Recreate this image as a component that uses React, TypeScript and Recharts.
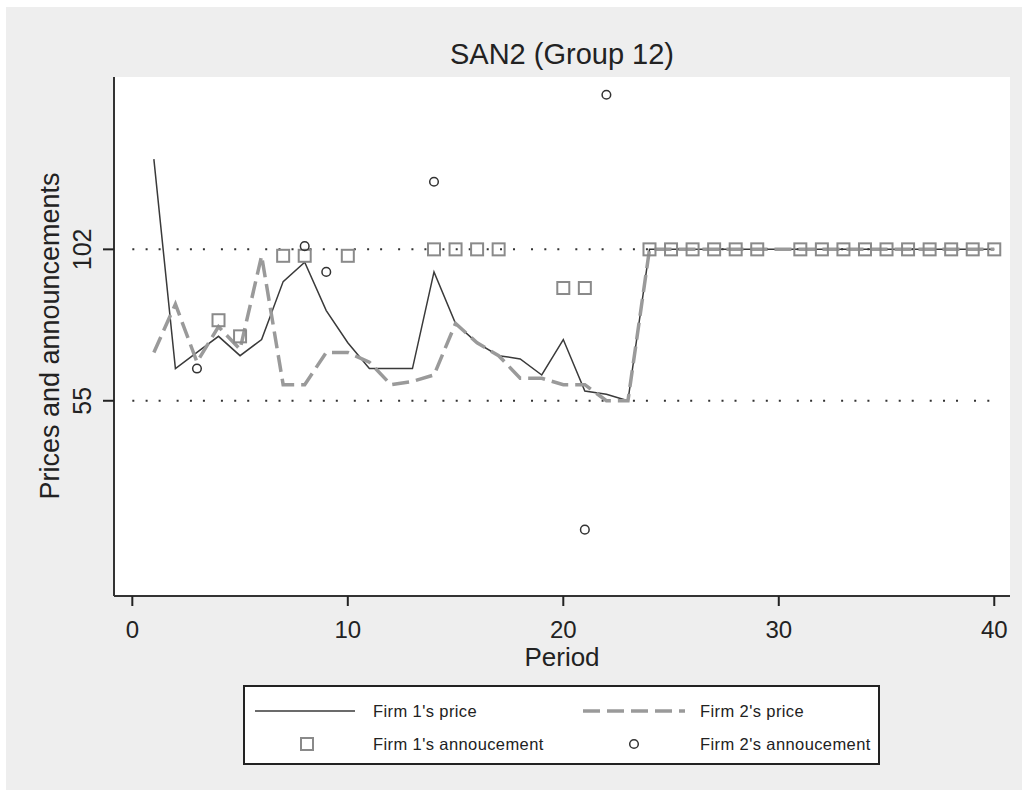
import React from 'react';
import {
  ComposedChart,
  Line,
  Scatter,
  XAxis,
  YAxis,
  ReferenceLine,
} from 'recharts';

// periods 1..40
const periods: number[] = Array.from({ length: 40 }, (_, i) => i + 1);

const firm1Price: number[] = [
  130, 65, 70, 75, 69, 74, 92, 98, 83, 73,
  65, 65, 65, 95, 79, 73, 69, 68, 63, 74,
  58, 57, 55, 102, 102, 102, 102, 102, 102, 102,
  102, 102, 102, 102, 102, 102, 102, 102, 102, 102,
];

const firm2Price: number[] = [
  70, 85, 67, 78, 71, 100, 60, 60, 70, 70,
  67, 60, 61, 63, 79, 73, 69, 62, 62, 60,
  60, 55, 55, 102, 102, 102, 102, 102, 102, 102,
  102, 102, 102, 102, 102, 102, 102, 102, 102, 102,
];

const firm1AnnPeriods: number[] = [4, 5, 7, 8, 10, 14, 15, 16, 17, 20, 21, 24, 25, 26, 27, 28, 29, 31, 32, 33, 34, 35, 36, 37, 38, 39, 40];
const firm1AnnValues: number[] = [80, 75, 100, 100, 100, 102, 102, 102, 102, 90, 90, 102, 102, 102, 102, 102, 102, 102, 102, 102, 102, 102, 102, 102, 102, 102, 102];

const firm2AnnPeriods: number[] = [3, 8, 9, 14, 21, 22];
const firm2AnnValues: number[] = [65, 103, 95, 123, 15, 150];

const xTicks = [0, 10, 20, 30, 40];
const yTicks = [55, 102];

const FONT = '"Liberation Sans", Arial, sans-serif';
const INK = '#222';

const priceData = periods.map((p, i) => ({ period: p, f1: firm1Price[i], f2: firm2Price[i] }));
const f1Ann = firm1AnnPeriods.map((p, i) => ({ period: p, v: firm1AnnValues[i] }));
const f2Ann = firm2AnnPeriods.map((p, i) => ({ period: p, v: firm2AnnValues[i] }));

const SquareShape = (props: any) => {
  const { cx, cy } = props;
  if (cx == null || cy == null) return null;
  return <rect x={cx - 6} y={cy - 6} width={12} height={12} fill="none" stroke="#8a8a8a" strokeWidth={2} />;
};

const CircleShape = (props: any) => {
  const { cx, cy } = props;
  if (cx == null || cy == null) return null;
  return <circle cx={cx} cy={cy} r={4.3} fill="none" stroke="#333" strokeWidth={1.5} />;
};

const YTick = (props: any) => {
  const { y, payload } = props;
  return (
    <text
      x={91}
      y={y}
      transform={`rotate(-90, 91, ${y})`}
      textAnchor="middle"
      fontSize={25}
      fontFamily={FONT}
      fill={INK}
    >
      {payload.value}
    </text>
  );
};

const dots = '2 11.3 2 11 2 16';

export default function App() {
  return (
    <div style={{ position: 'absolute', left: 0, top: 0, width: 1028, height: 794, background: '#fff', fontFamily: FONT }}>
      <div style={{ position: 'absolute', left: 6, top: 7, width: 1016, height: 783, background: '#eeeeee' }} />
      {/* plot region */}
      <div style={{ position: 'absolute', left: 114, top: 77, width: 896, height: 519, background: '#fff' }} />

      <div style={{ position: 'absolute', left: 0, top: 0 }}>
        <ComposedChart
          width={1028}
          height={794}
          data={priceData}
          margin={{ top: 77, right: 18, bottom: 138, left: 34 }}
        >
          <XAxis
            dataKey="period"
            type="number"
            domain={[-0.85, 40.73]}
            ticks={xTicks}
            allowDataOverflow
            height={60}
            tickSize={10}
            tickMargin={15}
            axisLine={{ stroke: '#333', strokeWidth: 2 }}
            tickLine={{ stroke: '#222', strokeWidth: 2 }}
            tick={{ fontSize: 24, fill: INK, fontFamily: FONT }}
          />
          <YAxis
            type="number"
            domain={[-5.6, 155.5]}
            ticks={yTicks}
            allowDataOverflow
            width={80}
            tickSize={11}
            axisLine={{ stroke: '#333', strokeWidth: 2 }}
            tickLine={{ stroke: '#222', strokeWidth: 2 }}
            tick={<YTick />}
          />
          <ReferenceLine
            segment={[{ x: 0, y: 102 }, { x: 40, y: 102 }]}
            stroke="#333"
            strokeWidth={2}
            strokeDasharray={dots}
          />
          <ReferenceLine
            segment={[{ x: 0, y: 55 }, { x: 40, y: 55 }]}
            stroke="#333"
            strokeWidth={2}
            strokeDasharray={dots}
          />
          <Line
            type="linear"
            dataKey="f1"
            stroke="#3a3a3a"
            strokeWidth={1.5}
            dot={false}
            activeDot={false}
            isAnimationActive={false}
          />
          <Line
            type="linear"
            dataKey="f2"
            stroke="#9a9a9a"
            strokeWidth={3.5}
            strokeDasharray="17 7"
            dot={false}
            activeDot={false}
            isAnimationActive={false}
          />
          <Scatter data={f1Ann} dataKey="v" shape={<SquareShape />} isAnimationActive={false} />
          <Scatter data={f2Ann} dataKey="v" shape={<CircleShape />} isAnimationActive={false} />
        </ComposedChart>
      </div>

      {/* title and axis titles */}
      <div style={{ position: 'absolute', left: 114, width: 896, top: 36, textAlign: 'center', fontSize: 29, color: INK, lineHeight: '36px' }}>
        SAN2 (Group 12)
      </div>
      <div style={{ position: 'absolute', left: 114, width: 896, top: 643, textAlign: 'center', fontSize: 26, color: INK, lineHeight: '28px' }}>
        Period
      </div>
      <div
        style={{
          position: 'absolute',
          left: 50 - 200,
          top: 336 - 15,
          width: 400,
          height: 30,
          lineHeight: '30px',
          textAlign: 'center',
          fontSize: 27,
          color: INK,
          transform: 'rotate(-90deg)',
        }}
      >
        Prices and announcements
      </div>

      {/* legend */}
      <div style={{ position: 'absolute', left: 243, top: 685, width: 633, height: 76, border: '2px solid #222', background: '#fff', fontSize: 16.5, letterSpacing: 0.4, color: INK }}>
        <svg width={633} height={76} style={{ position: 'absolute', left: 0, top: 0 }}>
          <line x1={10} x2={110} y1={24} y2={24} stroke="#3a3a3a" strokeWidth={1.5} />
          <line x1={338} x2={440} y1={24} y2={24} stroke="#9a9a9a" strokeWidth={3.5} strokeDasharray="17 7" />
          <rect x={56} y={51} width={12} height={12} fill="none" stroke="#8a8a8a" strokeWidth={2} />
          <circle cx={389} cy={57} r={4.3} fill="none" stroke="#333" strokeWidth={1.5} />
        </svg>
        <div style={{ position: 'absolute', left: 128, top: 14, lineHeight: '20px' }}>Firm 1's price</div>
        <div style={{ position: 'absolute', left: 455, top: 14, lineHeight: '20px' }}>Firm 2's price</div>
        <div style={{ position: 'absolute', left: 128, top: 47, lineHeight: '20px' }}>Firm 1's annoucement</div>
        <div style={{ position: 'absolute', left: 455, top: 47, lineHeight: '20px' }}>Firm 2's annoucement</div>
      </div>
    </div>
  );
}
